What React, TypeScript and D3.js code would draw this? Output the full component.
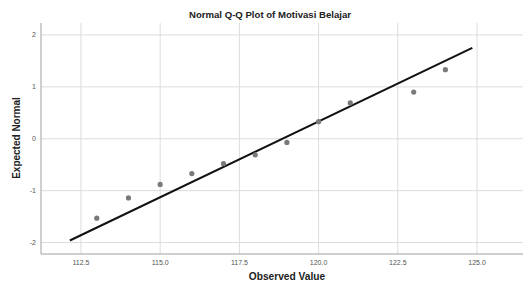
import React from "react";
import * as d3 from "d3";

const observed = [113, 114, 115, 116, 117, 118, 119, 120, 121, 123, 124];
const expected = [-1.53, -1.14, -0.88, -0.67, -0.48, -0.31, -0.07, 0.33, 0.69, 0.9, 1.33];
const lineX = [112.15, 124.85];
const lineY = [-1.96, 1.75];
const xTicks = [112.5, 115, 117.5, 120, 122.5, 125];
const yTicks = [-2, -1, 0, 1, 2];

const W = 523;
const H = 282;
const m = { left: 41, right: 0, top: 23, bottom: 28 };
const font = "'Liberation Sans', Arial, sans-serif";

export default function App() {
  const x = d3.scaleLinear().domain([111.24, 126.45]).range([m.left, W - m.right]);
  const y = d3.scaleLinear().domain([-2.22, 2.23]).range([H - m.bottom, m.top]);
  const line = d3
    .line<number>()
    .x((d) => x(d))
    .y((_, i) => y(lineY[i]));

  return (
    <svg
      width={W}
      height={H}
      style={{ position: "absolute", left: 0, top: 0, background: "#fff" }}
      fontFamily={font}
    >
      {/* grid */}
      {xTicks.map((t) => (
        <line key={"gx" + t} x1={x(t)} x2={x(t)} y1={m.top} y2={H - m.bottom} stroke="#dcdcdc" strokeWidth={1} />
      ))}
      {yTicks.map((t) => (
        <line key={"gy" + t} x1={m.left} x2={W - m.right} y1={y(t)} y2={y(t)} stroke="#dcdcdc" strokeWidth={1} />
      ))}
      {/* axes */}
      <line x1={m.left} x2={m.left} y1={m.top} y2={H - m.bottom} stroke="#a0a0a0" />
      <line x1={m.left} x2={W - m.right} y1={H - m.bottom} y2={H - m.bottom} stroke="#a0a0a0" />
      {xTicks.map((t) => (
        <text key={"tx" + t} x={x(t)} y={H - m.bottom + 10.5} fontSize={7} fill="#555" textAnchor="middle">
          {d3.format(".1f")(t)}
        </text>
      ))}
      {yTicks.map((t) => (
        <text key={"ty" + t} x={m.left - 5} y={y(t) + 2.5} fontSize={7} fill="#555" textAnchor="end">
          {t}
        </text>
      ))}
      {/* reference line */}
      <path d={line(lineX) || ""} stroke="#111" strokeWidth={2} fill="none" />
      {/* points */}
      {observed.map((v, i) => (
        <circle key={v} cx={x(v)} cy={y(expected[i])} r={2.6} fill="#7a7a7a" />
      ))}
      <text x={270} y={18} textAnchor="middle" fontSize={9.6} fontWeight="bold" fill="#222">
        Normal Q-Q Plot of Motivasi Belajar
      </text>
      <text x={287} y={280} textAnchor="middle" fontSize={10.2} fontWeight="bold" fill="#222">
        Observed Value
      </text>
      <text
        transform={`translate(20,138) rotate(-90)`}
        textAnchor="middle"
        fontSize={10}
        fontWeight="bold"
        fill="#222"
      >
        Expected Normal
      </text>
    </svg>
  );
}
